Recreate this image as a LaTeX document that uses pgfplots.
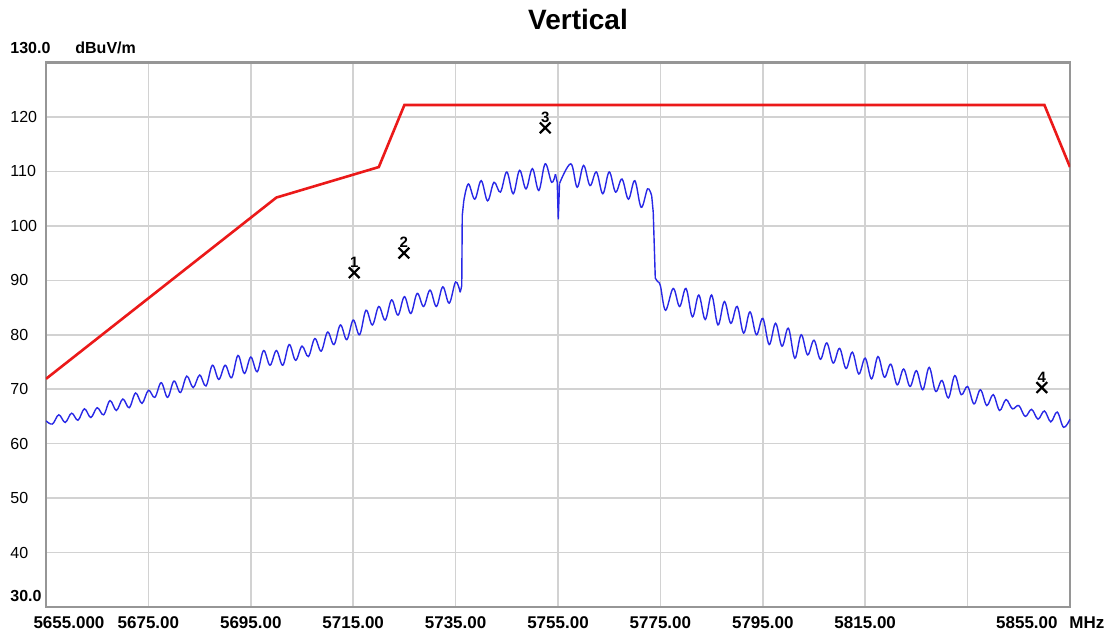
\documentclass[border=0pt]{standalone}
\usepackage{fontspec}
\setmainfont{Liberation Sans}
\usepackage{pgfplots}
\pgfplotsset{compat=1.18}

\definecolor{trace}{RGB}{40,40,230}
\definecolor{limit}{RGB}{235,25,25}
\definecolor{gridc}{RGB}{210,210,210}
\definecolor{framec}{RGB}{150,150,150}

\newcommand{\tickfont}{\bfseries\fontsize{8.5}{10}\selectfont}

\begin{document}
\begin{tikzpicture}
  \begin{axis}[
        name=ax, at={(0,0)}, anchor=south west,
        scale only axis,
        width=512pt, height=272.25pt,
        xmin=5655, xmax=5855, ymin=30, ymax=130,
        xtick={5675,5695,...,5835},
        xticklabels={5675.00,5695.00,5715.00,5735.00,5755.00,5775.00,5795.00,5815.00,{}},
        ytick={40,50,...,120},
        yticklabels={40,50,60,70,80,90,100,110,120},
        grid=major,
        major grid style={gridc, line width=0.75pt},
        axis line style={framec, line width=1.2pt},
        major tick length=0pt,
        xticklabel style={font=\tickfont, anchor=base, yshift=-10.5pt, inner sep=0pt},
        yticklabel style={font=\fontsize{8}{10}\selectfont, anchor=west, xshift=-18pt, inner sep=0pt},
        ]
    % limit line
    \addplot[limit, line width=1.3pt] coordinates {
      (5655,71.9) (5700,105.2) (5720,110.8) (5725,122.2) (5850,122.2) (5855,110.8)
    };

    % measured trace, lower left part
    \addplot[trace, line width=0.7pt, smooth, tension=0.6] coordinates {
      (5655,64.2) (5656.25,63.6) (5657.5,65.3) (5658.75,63.9) (5660,65.6) (5661.25,64.3)
      (5662.5,66.4) (5663.75,64.8) (5665,66.6) (5666.25,65.3) (5667.5,67.9) (5668.75,66.1)
      (5670,68.2) (5671.25,66.6) (5672.5,69.3) (5673.75,67.4) (5675,69.8) (5676.25,68.5)
      (5677.5,71.2) (5678.75,68.5) (5680,71.5) (5681.25,69.4) (5682.5,72.4) (5683.75,70.3)
      (5685,72.6) (5686.25,70.6) (5687.5,74.4) (5688.75,71.8) (5690,74.4) (5691.25,72.1)
      (5692.5,76.2) (5693.75,72.9) (5695,75.9) (5696.25,73.2) (5697.5,77.1) (5698.75,74.4)
      (5700,77.1) (5701.25,74.4) (5702.5,78.2) (5703.75,75.3) (5705,77.9) (5706.25,76.0)
      (5707.5,79.3) (5708.75,77.0) (5710,80.5) (5711.25,78.2) (5712.5,81.8) (5713.75,79.1)
      (5715,82.7) (5716.25,80.0) (5717.5,84.5) (5718.75,81.8) (5720,85.2) (5721.25,82.7)
      (5722.5,86.4) (5723.75,83.6) (5725,87.0) (5726.25,83.9) (5727.5,87.6) (5728.75,85.2)
      (5730,88.2) (5731.25,85.2) (5732.5,88.8) (5733.75,85.8) (5735,89.7) (5735.9,87.8)
    };
    \addplot[trace, line width=0.7pt] coordinates {
      (5735.9,87.8) (5736.2,89.0) (5736.3,101.9) (5736.6,104.6)
    };
    % plateau
    \addplot[trace, line width=0.7pt, smooth, tension=0.6] coordinates {
      (5736.6,104.6) (5737.5,107.7) (5738.75,104.9) (5740,108.3) (5741.25,104.6)
      (5742.5,108.0) (5743.75,106.2) (5745,109.9) (5746.25,105.9) (5747.5,110.2)
      (5748.75,106.8) (5750,110.5) (5751.25,106.5) (5752.5,111.4) (5753.75,108.0) (5754.5,109.5)
    };
    \addplot[trace, line width=0.7pt] coordinates {
      (5754.5,109.5) (5754.85,108.0) (5755.05,101.2) (5755.3,107.8)
    };
    \addplot[trace, line width=0.7pt, smooth, tension=0.6] coordinates {
      (5755.3,107.8) (5757.5,111.4) (5758.75,107.1) (5760,111.1) (5761.25,107.4)
      (5762.5,109.9) (5763.75,105.9) (5765,109.9) (5766.25,106.2) (5767.5,108.6)
      (5768.75,104.9) (5770,108.3) (5771.25,103.4) (5772.5,106.8) (5773.3,105.5)
    };
    \addplot[trace, line width=0.7pt] coordinates {
      (5773.3,105.5) (5773.6,102.5) (5774.0,90.4) (5774.5,89.7)
    };
    % lower right part
    \addplot[trace, line width=0.7pt, smooth, tension=0.6] coordinates {
      (5774.5,89.7) (5775,89.0) (5776,84.5) (5777.5,88.5) (5778.75,85.2) (5780,88.5)
      (5781.25,83.3) (5782.5,87.3) (5783.75,82.8) (5785,87.3) (5786.25,81.8) (5787.5,86.1)
      (5788.75,82.1) (5790,85.2) (5791.25,80.3) (5792.5,84.2) (5793.75,80.0) (5795,83.0)
      (5796.25,78.2) (5797.5,82.1) (5798.75,77.9) (5800,81.2) (5801.25,75.7) (5802.5,80.0)
      (5803.75,76.3) (5805,79.0) (5806.25,75.5) (5807.5,78.5) (5808.75,74.8) (5810,77.5)
      (5811.25,73.8) (5812.5,76.8) (5813.75,72.8) (5815,75.7) (5816.25,71.9) (5817.5,76.0)
      (5818.75,72.2) (5820,74.6) (5821.25,70.8) (5822.5,73.7) (5823.75,70.5) (5825,73.4)
      (5826.25,69.9) (5827.5,74.0) (5828.75,69.6) (5830,71.6) (5831.25,68.4) (5832.5,72.5)
      (5833.75,69.0) (5835,70.5) (5836.25,67.3) (5837.5,69.9) (5838.75,67.0) (5840,69.0)
      (5841.25,66.1) (5842.5,68.1) (5843.75,66.4) (5845,67.0) (5846.25,65.0) (5847.5,66.3)
      (5848.75,64.5) (5850,66.0) (5851.25,64.0) (5852.5,65.8) (5853.75,63.0) (5855,64.5)
    };

    % markers
    \addplot[only marks, mark=x, mark size=3.8pt, black,
        mark options={line width=1.1pt},
        point meta=explicit symbolic,
        nodes near coords,
        nodes near coords style={font=\bfseries\fontsize{7.5}{8}\selectfont, anchor=south, inner sep=0pt, yshift=2pt}]
      coordinates {
        (5715.2,91.4) [1]
        (5724.9,95.0) [2]
        (5752.5,118.0) [3]
        (5849.5,70.3) [4]
      };
  \end{axis}

  \node[anchor=base, font=\bfseries\fontsize{14}{16}\selectfont] at (266pt,289pt) {Vertical};
  \node[anchor=base west, inner sep=0pt, font=\bfseries\fontsize{8}{10}\selectfont] at (-18pt,277pt) {130.0};
  \node[anchor=base west, inner sep=0pt, font=\bfseries\fontsize{8}{10}\selectfont] at (14.5pt,277pt) {dBuV/m};
  \node[anchor=base west, inner sep=0pt, font=\bfseries\fontsize{8}{10}\selectfont] at (-18pt,3pt) {30.0};
  \node[anchor=base, inner sep=0pt, font=\tickfont] at (11.5pt,-10.5pt) {5655.000};
  \node[anchor=base east, inner sep=0pt, font=\tickfont] at (506pt,-10.5pt) {5855.00};
  \node[anchor=base west, inner sep=0pt, font=\tickfont] at (511.5pt,-10.5pt) {MHz};

  \pgfresetboundingbox
  \path[use as bounding box] (-23pt,-13.5pt) rectangle (531pt,303.5pt);
\end{tikzpicture}
\end{document}
